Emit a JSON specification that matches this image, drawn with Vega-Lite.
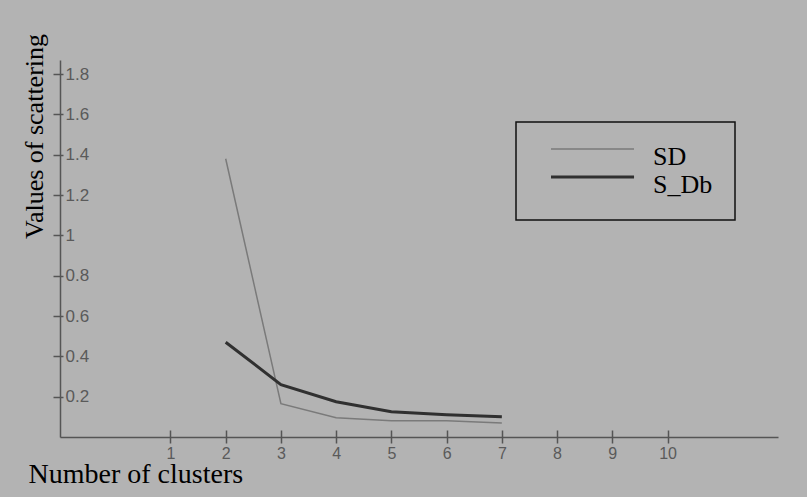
{
  "$schema": "https://vega.github.io/schema/vega-lite/v6.json",
  "width": 718,
  "height": 377,
  "autosize": {"type": "none"},
  "padding": {"left": 60, "top": 60, "right": 29, "bottom": 60},
  "background": "#b3b3b3",
  "config": {
    "view": {"stroke": null},
    "axis": {"grid": false}
  },
  "data": {
    "values": [
      {"series": "SD", "clusters": 2, "value": 1.38},
      {"series": "SD", "clusters": 3, "value": 0.165},
      {"series": "SD", "clusters": 4, "value": 0.095},
      {"series": "SD", "clusters": 5, "value": 0.08},
      {"series": "SD", "clusters": 6, "value": 0.08},
      {"series": "SD", "clusters": 7, "value": 0.07},
      {"series": "S_Db", "clusters": 2, "value": 0.47},
      {"series": "S_Db", "clusters": 3, "value": 0.26},
      {"series": "S_Db", "clusters": 4, "value": 0.175},
      {"series": "S_Db", "clusters": 5, "value": 0.125},
      {"series": "S_Db", "clusters": 6, "value": 0.11},
      {"series": "S_Db", "clusters": 7, "value": 0.10}
    ]
  },
  "layer": [
    {
      "mark": {"type": "line", "opacity": 0},
      "encoding": {
        "x": {
          "field": "clusters", "type": "quantitative",
          "scale": {"domain": [-1, 12], "nice": false, "zero": false},
          "axis": {
            "orient": "bottom", "domain": false, "labels": false, "title": null,
            "values": [1, 2, 3, 4, 5, 6, 7, 8, 9, 10],
            "tickSize": -7, "tickColor": "#555555", "tickWidth": 1.5
          }
        },
        "y": {
          "field": "value", "type": "quantitative",
          "scale": {"domain": [0, 1.87], "nice": false},
          "axis": {
            "orient": "left", "domain": false, "labels": false, "title": null,
            "values": [0.2, 0.4, 0.6, 0.8, 1, 1.2, 1.4, 1.6, 1.8],
            "tickSize": -3, "tickColor": "#555555", "tickWidth": 1.5
          }
        },
        "detail": {"field": "series"}
      }
    },
    {
      "mark": {"type": "line"},
      "encoding": {
        "x": {
          "field": "clusters", "type": "quantitative",
          "axis": {
            "orient": "bottom",
            "values": [1, 2, 3, 4, 5, 6, 7, 8, 9, 10],
            "domainColor": "#555555", "domainWidth": 1.5,
            "tickSize": 6, "tickColor": "#555555", "tickWidth": 1.5,
            "labelFont": "Liberation Sans", "labelFontSize": 16, "labelColor": "#5a5a5a",
            "labelPadding": 2,
            "title": "Number of clusters",
            "titleFont": "Liberation Serif", "titleFontSize": 28, "titleFontWeight": "normal",
            "titleColor": "#000000",
            "titleAnchor": "start", "titleAlign": "left", "titleBaseline": "alphabetic",
            "titleX": -32, "titleY": 45
          }
        },
        "y": {
          "field": "value", "type": "quantitative",
          "axis": {
            "orient": "left",
            "values": [0.2, 0.4, 0.6, 0.8, 1, 1.2, 1.4, 1.6, 1.8],
            "format": "~g",
            "domainColor": "#555555", "domainWidth": 1.5,
            "tickSize": 7, "tickColor": "#555555", "tickWidth": 1.5,
            "labelFont": "Liberation Sans", "labelFontSize": 17, "labelColor": "#5a5a5a",
            "labelAlign": "left", "labelPadding": -12, "labelBaseline": "middle",
            "title": "Values of scattering",
            "titleFont": "Liberation Serif", "titleFontSize": 26, "titleFontWeight": "normal",
            "titleColor": "#000000",
            "titleAngle": 270, "titleAlign": "center", "titleBaseline": "alphabetic",
            "titleX": -18, "titleY": 76
          }
        },
        "color": {
          "field": "series", "type": "nominal",
          "scale": {"domain": ["SD", "S_Db"], "range": ["#7a7a7a", "#303030"]},
          "legend": {
            "title": null,
            "orient": "none", "legendX": 456, "legendY": 62,
            "symbolType": "M0,-0.77H8", "symbolSize": 431,
            "labelFont": "Liberation Serif", "labelFontSize": 26, "labelColor": "#000000",
            "labelOffset": 89, "labelBaseline": "middle",
            "padding": 22, "strokeColor": "#111111",
            "rowPadding": 1,
            "encode": {
              "legend": {"update": {"strokeWidth": {"value": 1.5}}}
            }
          }
        },
        "strokeWidth": {
          "field": "series", "type": "nominal",
          "scale": {"domain": ["SD", "S_Db"], "range": [1.5, 3]},
          "legend": null
        }
      }
    }
  ],
  "resolve": {"axis": {"x": "independent", "y": "independent"}}
}
